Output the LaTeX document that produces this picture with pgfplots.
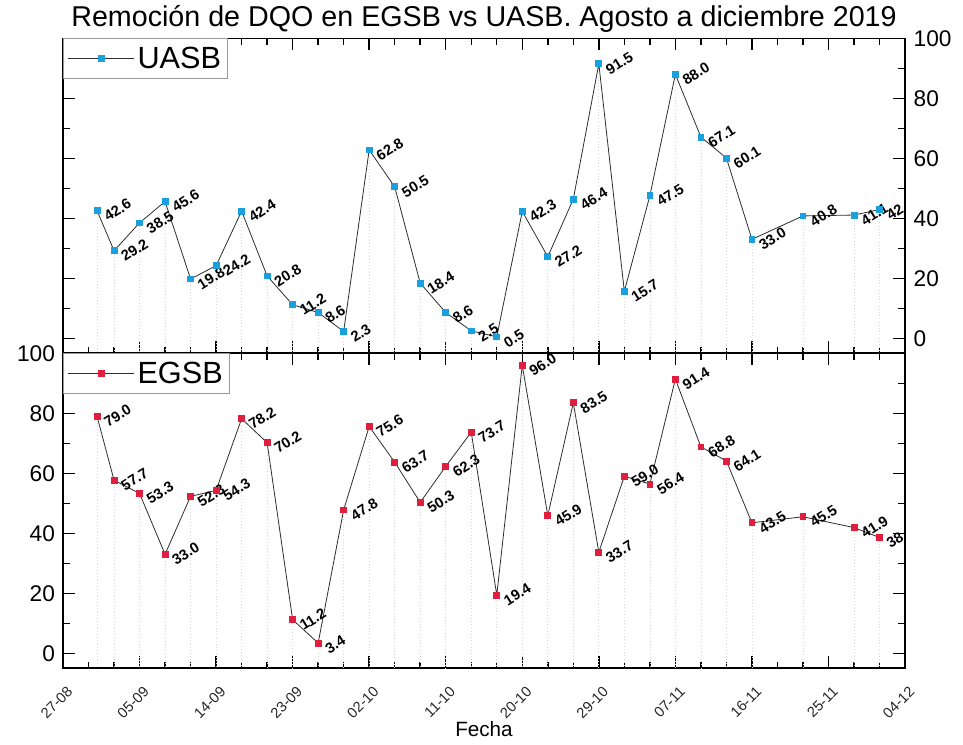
\documentclass[border=0pt]{standalone}
\usepackage{fontspec}
\setmainfont{Liberation Sans}
\usepackage{pgfplots}
\pgfplotsset{compat=1.18}
\usepackage{pgfplotstable}

\definecolor{uasbblue}{RGB}{27,160,222}
\definecolor{egsbred}{RGB}{224,30,62}
\definecolor{linegray}{RGB}{45,45,45}

% day = days after 27-08-2019, val = DQO removal (%)
\pgfplotstableread{
day val
4 42.6
6 29.2
9 38.5
12 45.6
15 19.8
18 24.2
21 42.4
24 20.8
27 11.2
30 8.6
33 2.3
36 62.8
39 50.5
42 18.4
45 8.6
48 2.5
51 0.5
54 42.3
57 27.2
60 46.4
63 91.5
66 15.7
69 47.5
72 88.0
75 67.1
78 60.1
81 33.0
87 40.8
93 41.1
96 42.9
}\uasbdata

\pgfplotstableread{
day val
4 79.0
6 57.7
9 53.3
12 33.0
15 52.3
18 54.3
21 78.2
24 70.2
27 11.2
30 3.4
33 47.8
36 75.6
39 63.7
42 50.3
45 62.3
48 73.7
51 19.4
54 96.0
57 45.9
60 83.5
63 33.7
66 59.0
69 56.4
72 91.4
75 68.8
78 64.1
81 43.5
87 45.5
93 41.9
96 38.6
}\egsbdata

\pgfplotsset{
  /pgf/number format/assume math mode=true,
  panel/.style={
    scale only axis,
    width=631.5pt, height=236.25pt,
    anchor=south west,
    xmin=0, xmax=99, ymin=-5, ymax=100,
    xtick={0,9,...,99}, minor x tick num=2,
    ytick={0,20,...,100}, minor y tick num=1,
    tick align=inside,
    xtick pos=both, ytick pos=both,
    axis line style={line width=1.2pt, black},
    major tick style={line width=1.1pt, black},
    minor tick style={line width=1.1pt, black},
    major tick length=9pt, minor tick length=5pt,
    yticklabel style={font=\fontsize{17}{20}\selectfont},
    clip marker paths=true,
    legend style={at={(0,1)}, anchor=north west, draw=gray!80, line width=0.6pt,
      font=\fontsize{23}{25}\selectfont, inner xsep=3pt, inner ysep=4pt,
      nodes={inner sep=2pt}},
    legend cell align=left,
    legend image code/.code={
      \draw[mark repeat=2,mark phase=2,#1] plot coordinates {(0pt,0pt) (25pt,0pt) (50pt,0pt)};
    },
  },
  droplines/.style={only marks, mark=none, forget plot,
    error bars/.cd, y dir=minus, y explicit, error mark=none,
    error bar style={draw=gray!30, dotted, line width=0.5pt}},
  series/.style={color=linegray, line width=0.6pt,
    mark=square*, mark size=2.2pt, mark options={solid, fill=#1, draw=#1},
    nodes near coords,
    every node near coord/.append style={
      font=\fontsize{11}{13}\selectfont\bfseries, text=black,
      xshift=2.5pt, yshift=-1.5pt, rotate=32, anchor=north west, inner sep=1pt,
      /pgf/number format/fixed, /pgf/number format/fixed zerofill,
      /pgf/number format/precision=1}},
}

\begin{document}
\begin{tikzpicture}
\path[use as bounding box] (0,0) rectangle (722.25pt,558pt);

% upper panel: UASB
\begin{axis}[panel,
  at={(47.25pt,293pt)},
  xticklabels={},
  yticklabel pos=right,
  yticklabel style={xshift=3pt},
  title={Remoción de DQO en EGSB vs UASB. Agosto a diciembre 2019},
  title style={at={(0.5,1)}, anchor=base, yshift=2.5pt,
    font=\fontsize{21.5}{25}\selectfont},
]
\addplot[droplines] table[x=day, y=val, y error expr={\thisrow{val}+5}] {\uasbdata};
\addplot[series=uasbblue] table[x=day, y=val] {\uasbdata};
\addlegendentry{UASB}
\end{axis}

% lower panel: EGSB
\begin{axis}[panel,
  at={(47.25pt,56.8pt)},
  xticklabels={27-08,05-09,14-09,23-09,02-10,11-10,20-10,29-10,07-11,16-11,25-11,04-12},
  xticklabel style={font=\fontsize{11}{13}\selectfont, anchor=east,
    xshift=6pt, yshift=-15pt, rotate=45, inner sep=1pt, text=black!85},
  yticklabel style={xshift=-2.5pt},
  xlabel={Fecha},
  xlabel style={at={(0.5,0)}, anchor=base, yshift=-51pt,
    font=\fontsize{15.5}{18}\selectfont},
]
\addplot[droplines] table[x=day, y=val, y error expr={\thisrow{val}+5}] {\egsbdata};
\addplot[series=egsbred] table[x=day, y=val] {\egsbdata};
\addlegendentry{EGSB}
\end{axis}
\end{tikzpicture}
\end{document}
